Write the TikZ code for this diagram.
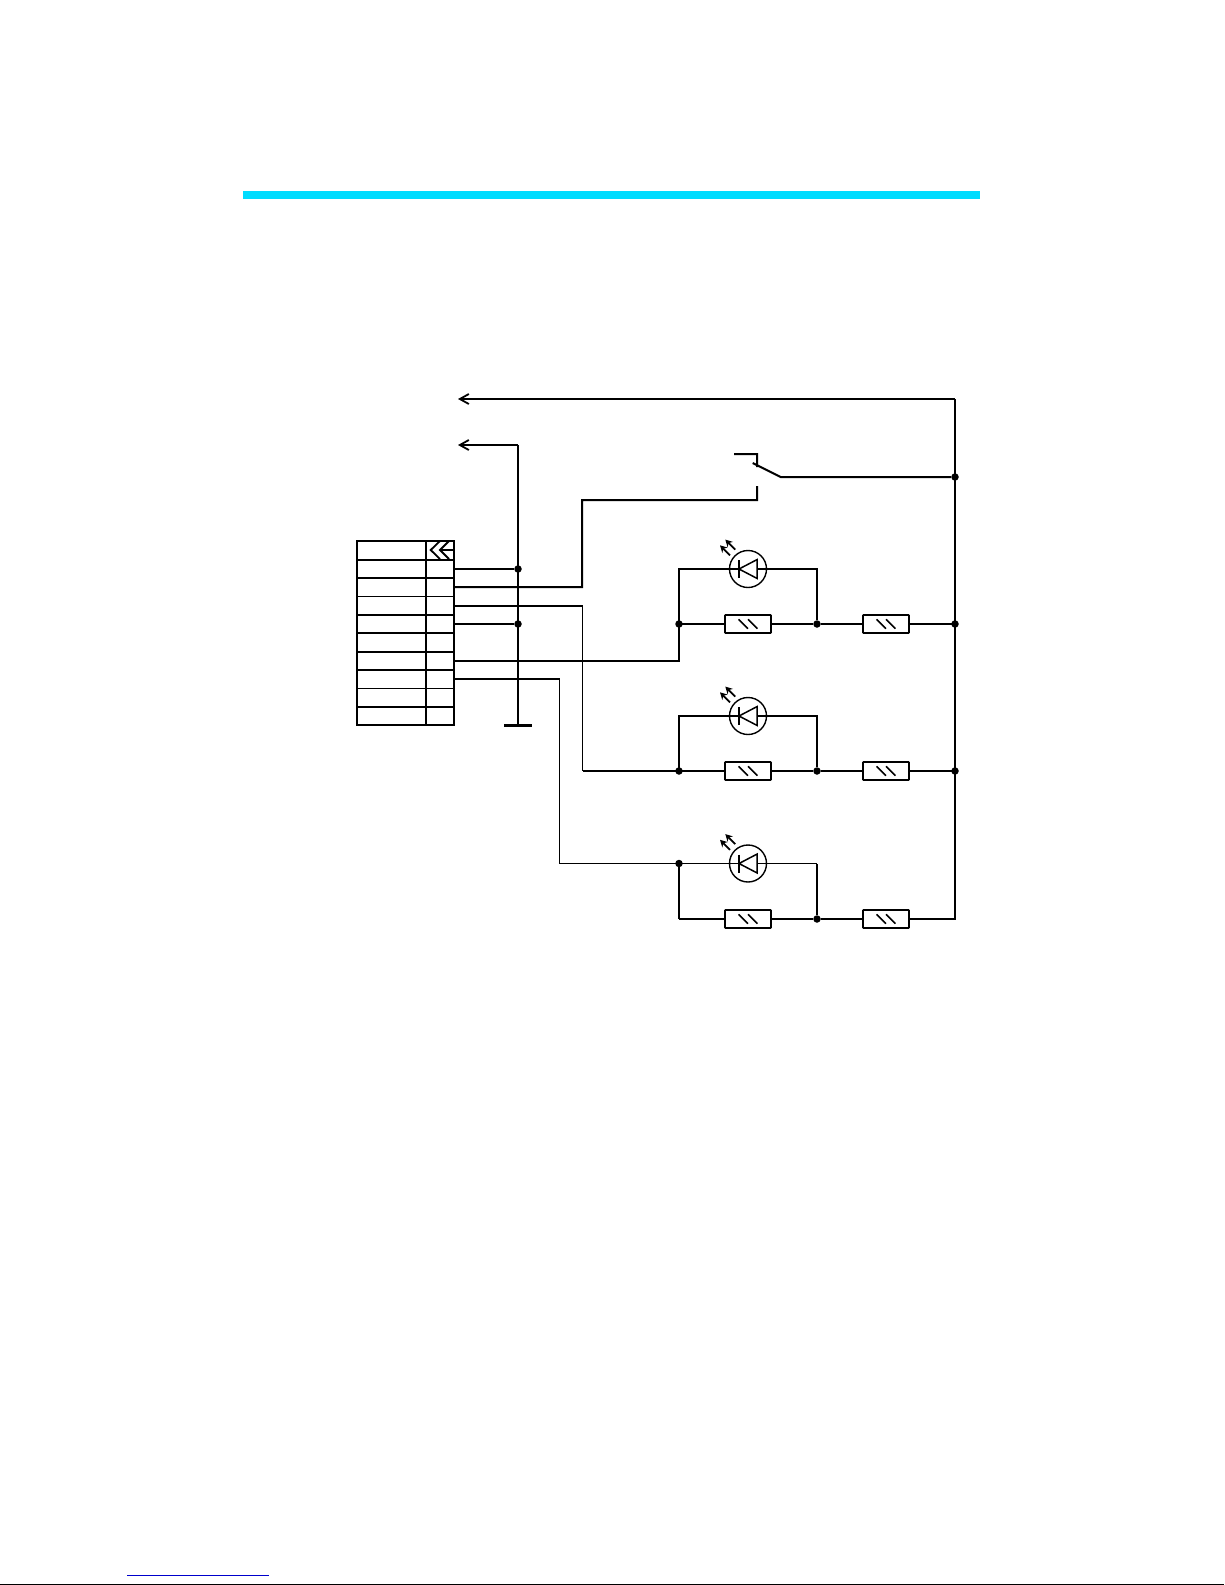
\documentclass[tikz,border=0pt]{standalone}
\usepackage{xcolor}
\usetikzlibrary{
		arrows.meta,
		positioning
	}
\definecolor{barcyan}{HTML}{00DCFF}
\definecolor{linkblue}{HTML}{0000CC}
\tikzset{
		>={Straight Barb[length=9pt,width=10pt,line width=1.8pt]},
		wire/.style={line width=2pt},
		thinwire/.style={line width=1.5pt},
		dot/.style={circle,fill=black,inner sep=0pt,minimum size=7.5pt},
		resbox/.style={draw,line width=1.6pt,fill=white,inner sep=0pt,minimum width=46pt,minimum height=18pt,rounded corners=.5pt,
			path picture={
				\draw[line width=1.5pt] ([shift={(-9.4pt,4.7pt)}]path picture bounding box.center) -- ++(9.4pt,-9.4pt)
				                        ([shift={(0pt,4.7pt)}]path picture bounding box.center) -- ++(9.4pt,-9.4pt);
			}}
	}
\tikzset{pics/led/.style={code={
		\node[draw,circle,line width=1.4pt,inner sep=0pt,minimum size=37pt] (-body) at (0,0) {};
		\coordinate (-bar) at (-9,0);
		\coordinate (-base) at (9,0);
		\draw[line width=1.5pt] (9,-9.4) -- (9,9.4) -- (-9,0) -- cycle; % the diode, tip on the bar
		\draw[line width=2pt] (-9,-9) -- (-9,9);
		\draw[line width=1.7pt,-{Stealth[length=7pt,width=7.5pt]}] (-18,-13.7) -- (-28,-23.7);
		\draw[line width=1.7pt,-{Stealth[length=7pt,width=7.5pt]}] (-12.7,-19.4) -- (-22.7,-29.4);
	}}}
\begin{document}
\begin{tikzpicture}[x=1pt, y=-1pt]
		\useasboundingbox (0,0) rectangle (1225,1585);
		\fill[barcyan] (243,191) rectangle (980,199);
		\fill[linkblue] (127,1575) rectangle (269,1576);
		\fill[black] (0,1584) rectangle (1224,1585);

		% the plug
		\draw[wire] (357,541) rectangle (454,725);
		\draw[wire] (426,541) -- (426,725);
		\foreach \y in {560,578,615,633,652,670,707}
			\draw[wire] (357,\y) -- (454,\y);
		\foreach \y in {596.5,688.5}
			\draw[thinwire] (357,\y) -- (454,\y);
		\draw[line width=1.8pt] (440,541) -- (430.7,550) -- (440,559)
			(449,541) -- (440,550) -- (449,559);
		\draw[line width=1.2pt] (440,550) -- (454,550);

		% free ends, taps on the plug, bends
		\coordinate (toptip) at (458,399);
		\coordinate (toptr) at (955,399);
		\coordinate (sectip) at (458,445);
		\coordinate (bustop) at (518,445);
		\coordinate (busend) at (518,725);
		\coordinate (gndl) at (504,725.5);
		\coordinate (gndr) at (532,725.5);
		\foreach \n/\y in {a/569,b/587,c/606,d/624,e/661,f/679}
			\coordinate (pin\n) at (454,\y);
		\node[dot] (busa) at (518,569) {};
		\node[dot] (busb) at (518,624) {};
		\coordinate (bendc) at (582.5,606);
		\coordinate (bendd) at (582.5,771);
		\coordinate (bende) at (679,661);
		\coordinate (bendf) at (559.5,679);
		\coordinate (bendg) at (559.5,863.5);

		% the switch
		\coordinate (swa) at (734,454);
		\coordinate (swb) at (757,454);
		\coordinate (swc) at (757,467);
		\coordinate (swd) at (752.7,463);
		\coordinate (swe) at (780.7,477);
		\coordinate (swf) at (757,486);
		\coordinate (swg) at (757,500);
		\coordinate (swh) at (582,500);
		\coordinate (swi) at (582,587);
		\node[dot] (railsw) at (955,477) {};

		% the three lamp rows
		\foreach \r/\yl/\yr in {a/569/624,b/716/771,c/863.5/919}{
			\pic (led\r) at (748,\yl) {led};
			\node[resbox] (res\r) at (748,\yr) {};
			\node[resbox] (ser\r) at (886,\yr) {};
			\node[dot] (mid\r) at (817,\yr) {};
			\coordinate (top\r) at (817,\yl);
			\coordinate (low\r) at (679,\yr);
			\coordinate (rail\r) at (955,\yr);
			\coordinate (in\r) at (679,\yl);
		}
		\node[dot] (dota) at (lowa) {};
		\node[dot] (dotb) at (lowb) {};
		\node[dot] (dotc) at (inc) {};
		\node[dot] (dotd) at (raila) {};
		\node[dot] (dote) at (railb) {};

		\draw[wire,->] (toptr) -- (toptip);
		\draw[wire,->] (bustop) -- (sectip);
		\draw[wire] (toptr) -- (railc) -- (serc);
		\draw[wire] (bustop) -- (busend);
		\draw[line width=3pt] (gndl) -- (gndr);
		\draw[wire] (pina) -- (busa) (pind) -- (busb);

		% switch
		\draw[wire] (swa) -- (swb) -- (swc) (swd) -- (swe) -- (railsw) (swf) -- (swg) -- (swh) -- (swi) -- (pinb);

		% rows
		\foreach \r in {a,b}{
			\draw[wire] (res\r) -- (mid\r) -- (ser\r) -- (rail\r);
			\draw[wire] (mid\r) -- (top\r) -- (led\r-base);
			\draw[wire] (low\r) -- (res\r) (low\r) -- (in\r) -- (led\r-bar);
		}
		\draw[wire] (resc) -- (midc) -- (serc) -- (railc);
		\draw[wire] (midc) -- (topc);
		\draw[thinwire] (topc) -- (ledc-base);
		\draw[wire] (lowc) -- (resc) (lowc) -- (inc);
		\draw[thinwire] (inc) -- (ledc-bar);

		% the wires from the plug to the rows
		\draw[wire] (pinc) -- (bendc);
		\draw[thinwire] (bendc) -- (bendd);
		\draw[wire] (bendd) -- (lowb);
		\draw[wire] (pine) -- (bende) -- (lowa);
		\draw[wire] (pinf) -- (bendf);
		\draw[thinwire] (bendf) -- (bendg) -- (inc);
	\end{tikzpicture}
\end{document}
